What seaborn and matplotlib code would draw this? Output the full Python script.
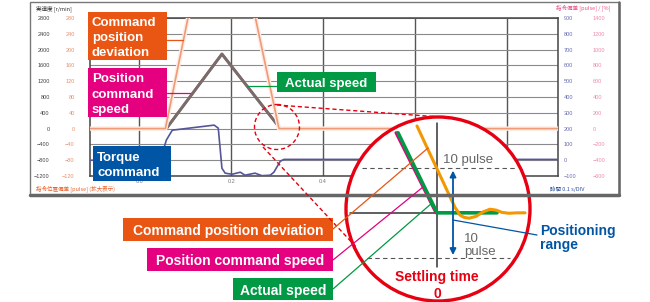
import matplotlib
matplotlib.use("Agg")
import matplotlib.pyplot as plt
import seaborn as sns
from matplotlib.patches import Circle, Rectangle

sns.set_theme(style="white")
plt.rcParams['font.family'] = ['Liberation Sans', 'Noto Sans CJK JP', 'DejaVu Sans']

# ---- main chart data (time in s) ----
speed_t = [-0.107, 0.059, 0.180, 0.307, 0.911]
cmd_speed = [0, 0, 1890, 0, 0]            # r/min
act_speed = [0, 0, 1885, 0, 0]            # r/min
dev_t = [-0.107, 0.057, 0.107, 0.252, 0.304, 0.911]
cmd_dev = [0, 0, 285, 285, 0, 0]          # pulse
trq_t = [-0.107, 0.046, 0.059, 0.072, 0.163, 0.172, 0.180, 0.187, 0.202, 0.220,
         0.230, 0.252, 0.267, 0.285, 0.293, 0.307, 0.315, 0.911]
torque = [0, 0, 127, 190, 222, 203, -51, -82, -89, -76,
          -95, -82, -98, -95, -76, -6, 5, 5]   # %

speed_ticks = [-1200, -800, -400, 0, 400, 800, 1200, 1600, 2000, 2400, 2800]
dev_ticks = [-120, -80, -40, 0, 40, 80, 120, 160, 200, 240, 280]
trq_ticks = [-100, 0, 100, 200, 300, 400, 500, 600, 700, 800, 900]
pk_ticks = [-600, -400, -200, 0, 200, 400, 600, 800, 1000, 1200, 1400]
time_ticks = [0.0, 0.2, 0.4, 0.6, 0.8]

# ---- magnified view data (ms, pulse) ----
zoom_grn_t = [-3.9, 0.0, 6.0]
zoom_grn = [17.8, 0, 0]
zoom_mag_t = [-4.1, -0.1]
zoom_mag = [17.8, 0]
zoom_org_t = [-2.0, 1.0, 1.8, 2.3, 2.7, 3.2, 3.9, 4.6, 5.3, 5.9, 6.5, 7.2, 8.0, 8.8]
zoom_org = [19.3, 5.0, 1.2, -0.5, -1.0, -1.2, -0.8, 0.2, 0.8, 0.6, 0.1, -0.1, 0, 0]
pulse_range = 10

W, H = 650, 302
fig = plt.figure(figsize=(6.5, 3.02), dpi=100)
fig.patch.set_facecolor('white')

def box(l, t, r, b):
    return [l / W, 1 - b / H, (r - l) / W, (b - t) / H]

# main chart
ax = fig.add_axes(box(90, 18, 558, 176), zorder=1)
ax_dev = ax.twinx()
ax_trq = ax.twinx()
ax_pk = ax.twinx()

sns.lineplot(x=dev_t, y=cmd_dev, ax=ax_dev, color='#FDECE2', linewidth=3.2, sort=False, estimator=None)
sns.lineplot(x=dev_t, y=cmd_dev, ax=ax_dev, color='#EF9A78', linewidth=1.2, sort=False, estimator=None)
sns.lineplot(x=speed_t, y=cmd_speed, ax=ax, color='#7B6B6B', linewidth=2, sort=False, estimator=None)
sns.lineplot(x=speed_t, y=act_speed, ax=ax, color='#7B6B6B', linewidth=2, sort=False, estimator=None)
sns.lineplot(x=trq_t, y=torque, ax=ax_trq, color='#55559A', linewidth=1.2, sort=False, estimator=None)

ax.set_xlim(-0.107, 0.911)
ax.set_ylim(-1200, 2800)
ax_dev.set_ylim(-120, 280)
ax_trq.set_ylim(-100, 900)
ax_pk.set_ylim(-600, 1400)

ax.set_xticks(time_ticks)
ax.set_xticklabels([f"{v:.1f}" for v in time_ticks])
ax.set_yticks(speed_ticks)
ax.grid(True, color='#8a8a8a', linewidth=0.8)
ax.xaxis.grid(True, color='#555555', linewidth=1)
ax.tick_params(axis='x', length=0, pad=2, labelsize=4, labelcolor='#777777')
ax.tick_params(axis='y', length=0, pad=29, labelsize=4, labelcolor='#444444')
for s in ax.spines.values():
    s.set_color('#444444')
    s.set_linewidth(1.1)

ax_dev.set_yticks(dev_ticks)
ax_dev.yaxis.set_ticks_position('left')
ax_dev.tick_params(axis='y', length=0, pad=11, labelsize=4, labelcolor='#E89070')
ax_trq.set_yticks(trq_ticks)
ax_trq.tick_params(axis='y', length=0, pad=4, labelsize=4, labelcolor='#6A6AB5')
ax_pk.set_yticks(pk_ticks)
ax_pk.tick_params(axis='y', length=0, pad=25, labelsize=4, labelcolor='#F08AA8')
for a in (ax_dev, ax_trq, ax_pk):
    for s in a.spines.values():
        s.set_visible(False)
    a.set_ylabel('')
ax.set_ylabel('')

# magnified view
ax_z = fig.add_axes(box(346, 117, 530, 301), zorder=4)
ax_z.set_axis_off()
ax_z.set_xlim(-9.1, 9.3)
ax_z.set_ylim(-19.6, 21.3)
disk = Circle((0.5, 0.5), 0.5, transform=ax_z.transAxes, fc='white', ec='none', zorder=0)
ax_z.add_patch(disk)
ax_z.plot([-8.7, 0], [0, 0], color='#333333', lw=1.1, zorder=1)
ax_z.plot([0, 0], [20, -12], color='#333333', lw=1.1, zorder=1)
ax_z.plot([-7.5, 8.0], [pulse_range, pulse_range], color='#555555', lw=0.8, ls=(0, (4, 3)), zorder=1)
ax_z.plot([-7.0, 7.3], [-pulse_range, -pulse_range], color='#555555', lw=0.8, ls=(0, (4, 3)), zorder=1)
sns.lineplot(x=zoom_mag_t, y=zoom_mag, ax=ax_z, color='#E4007F', linewidth=2.2, sort=False, estimator=None, zorder=2)
sns.lineplot(x=zoom_grn_t, y=zoom_grn, ax=ax_z, color='#009944', linewidth=2.6, sort=False, estimator=None, zorder=3)
sns.lineplot(x=zoom_org_t, y=zoom_org, ax=ax_z, color='#F39800', linewidth=2.2, sort=False, estimator=None, zorder=4)
ax_z.annotate('', xy=(1.6, pulse_range), xytext=(1.6, -pulse_range),
              arrowprops=dict(arrowstyle='<|-|>', color='#0055A5', lw=1.3, mutation_scale=9), zorder=5)
for ln in ax_z.lines:
    ln.set_clip_path(disk)
ax_z.add_patch(Circle((0.5, 0.5), 0.5, transform=ax_z.transAxes, fc='none', ec='#E60012',
                      lw=2.4, zorder=10, clip_on=False))

# overlay for annotations (pixel coordinates)
ov = fig.add_axes([0, 0, 1, 1], zorder=5)
ov.set_xlim(0, W)
ov.set_ylim(H, 0)
ov.set_axis_off()
ov.patch.set_visible(False)

ov.add_patch(Rectangle((30, 2), 589, 193, fc='none', ec='#777777', lw=1))
ov.plot([30, 619], [195, 195], color='#666666', lw=2.5)
ov.plot([619, 619], [2, 195], color='#666666', lw=1.8)

jp = ['Noto Sans CJK JP', 'DejaVu Sans']
ov.text(36, 9, '実速度 [r/min]', fontsize=4, color='#333333', va='center', family=jp)
ov.text(610, 8, '指令偏差 [pulse] / [%]', fontsize=4, color='#E8508A', va='center', ha='right', family=jp)
ov.text(36, 189, '指令位置偏差 [pulse] (拡大表示)', fontsize=4, color='#E8602C', va='center', family=jp)
ov.text(585, 189, '時間 0.1 s/DIV', fontsize=4, color='#3050A0', va='center', ha='right', family=jp)

def label_box(l, t, r, b, color, lines, tx, ys, ha='left', size=9.5):
    ov.add_patch(Rectangle((l, t), r - l, b - t, fc=color, ec='none'))
    for line, y in zip(lines, ys):
        ov.text(tx, y, line, color='white', fontsize=size, fontweight='bold',
                ha=ha, va='center_baseline')

# main chart callouts
ov.plot([167, 183], [40, 40], color='#E95513', lw=0.9)
ov.plot([167, 190], [93, 93], color='#E4007F', lw=0.9)
ov.plot([247, 277], [86, 86], color='#009944', lw=0.9)
label_box(88, 12, 167, 60, '#E95513', ['Command', 'position', 'deviation'], 92, [22, 37, 52])
label_box(88, 68, 167, 117, '#E4007F', ['Position', 'command', 'speed'], 92, [78, 93, 108])
label_box(93, 146, 171, 181, '#0055A5', ['Torque', 'command'], 97, [156, 171])
label_box(277, 72, 376, 92, '#009944', ['Actual speed'], 326.5, [82], ha='center')

# small dashed circle and connection lines
ov.add_patch(Circle((277, 127), 22.5, fc='none', ec='#E60012', lw=1, ls=(0, (3, 2))))
ov.plot([277, 440], [105, 117], color='#E60012', lw=1, ls=(0, (3, 2)))
ov.plot([263, 357], [147, 248], color='#E60012', lw=1, ls=(0, (3, 2)))

# bottom callouts with leaders into the magnified view
ov.plot([333, 428], [229, 148], color='#E95513', lw=0.9)
ov.plot([333, 423], [260, 187], color='#E4007F', lw=0.9)
ov.plot([333, 432], [289, 203], color='#009944', lw=0.9)
label_box(123, 218, 333, 241, '#E95513', ['Command position deviation'], 228, [229.5], ha='center', size=10)
label_box(147, 248, 333, 271, '#E4007F', ['Position command speed'], 240, [259.5], ha='center', size=10)
label_box(233, 278, 333, 300, '#009944', ['Actual speed'], 283, [289], ha='center', size=10)

# magnified view texts
ov.text(443, 159, '10 pulse', fontsize=9.5, color='#666666', va='center_baseline')
ov.text(464, 237, '10', fontsize=9.5, color='#666666', va='center_baseline')
ov.text(464, 251, 'pulse', fontsize=9.5, color='#666666', va='center_baseline')
ov.plot([453, 537], [220, 235], color='#0055A5', lw=0.9)
ov.text(540, 230, 'Positioning', fontsize=10, color='#0055A5', fontweight='bold', va='center_baseline')
ov.text(540, 244, 'range', fontsize=10, color='#0055A5', fontweight='bold', va='center_baseline')
ov.text(437, 275, 'Settling time', fontsize=10, color='#E60012', fontweight='bold', ha='center', va='center_baseline')
ov.text(437, 292, '0', fontsize=10, color='#E60012', fontweight='bold', ha='center', va='center_baseline')

fig.savefig('out.png', dpi=100)
